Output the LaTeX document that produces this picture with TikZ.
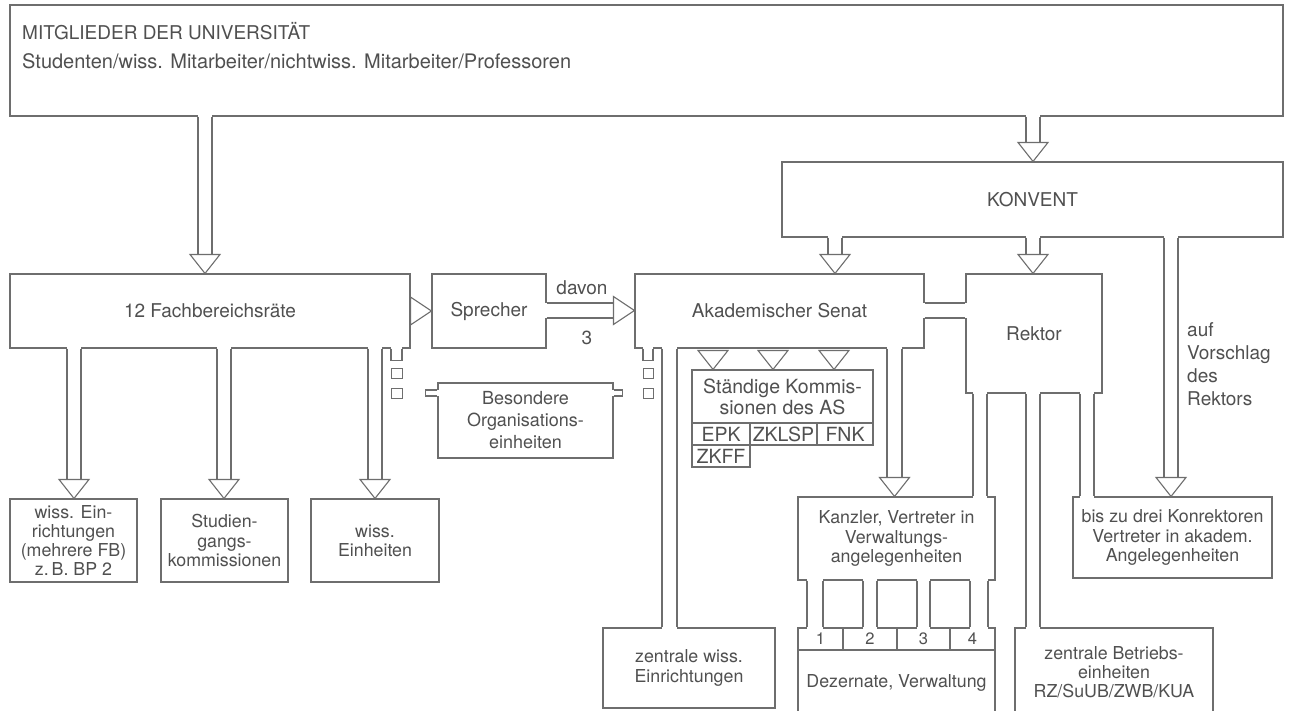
\documentclass[tikz,border=0pt]{standalone}
\usepackage{fontspec}
\setmainfont{TeX Gyre Heros}
\usetikzlibrary{calc}
\definecolor{linec}{HTML}{6E6E6E}
\definecolor{textc}{HTML}{505050}
\newcommand\bigf{\fontsize{19}{23}\selectfont}
\newcommand\stf{\fontsize{19.5}{21}\selectfont}
\newcommand\smf{\fontsize{17.8}{19.2}\selectfont}
\newcommand\besf{\fontsize{18}{22}\selectfont}
\newcommand\numf{\fontsize{16.5}{18}\selectfont}
% box by corners: [font]{name}{x1}{y1}{x2}{y2}{text}
\newcommand\mkbox[7][\smf]{\node[box,font=#1,minimum width={(#5-#3)*1pt},minimum height={(#6-#4)*1pt}] (#2) at ({(#3+#5)/2},{(#4+#6)/2}) {#7};}
\newcommand\triD[1]{\filldraw[wall,fill=white,line join=miter] ($#1+(-15,-19)$) -- ($#1+(15,-19)$) -- #1 -- cycle;}
\newcommand\triR[1]{\filldraw[wall,fill=white,line join=miter] ($#1+(-21,-14)$) -- ($#1+(-21,14)$) -- #1 -- cycle;}
% plain vertical pipe: x1 x2 from to
\newcommand\pipeV[4]{%
  \fill[white] ($(#1,0 |- #3)+(0,-1.6)$) rectangle ($(#2,0 |- #4)+(0,1.6)$);
  \draw[wall] (#1,0 |- #3) -- (#1,0 |- #4) (#2,0 |- #3) -- (#2,0 |- #4);}
% vertical pipe with arrow
\newcommand\apipeV[4]{%
  \pgfmathsetmacro\pcx{(#1+#2)/2}
  \coordinate (ptip) at (\pcx,0 |- #4);
  \coordinate (pbase) at ($(ptip)+(0,-19)$);
  \fill[white] ($(#1,0 |- #3)+(0,-1.6)$) rectangle (#2,0 |- pbase);
  \draw[wall] (#1,0 |- #3) -- (#1,0 |- pbase) (#2,0 |- #3) -- (#2,0 |- pbase);
  \triD{(ptip)}}
% plain horizontal pipe: y1 y2 from to
\newcommand\pipeH[4]{%
  \fill[white] ($(#3 |- 0,#1)+(-1.6,0)$) rectangle ($(#4 |- 0,#2)+(1.6,0)$);
  \draw[wall] (#3 |- 0,#1) -- (#4 |- 0,#1) (#3 |- 0,#2) -- (#4 |- 0,#2);}
% horizontal pipe with arrow
\newcommand\apipeH[4]{%
  \pgfmathsetmacro\pcy{(#1+#2)/2}
  \coordinate (ptip) at (#4 |- 0,\pcy);
  \coordinate (pbase) at ($(ptip)+(-21,0)$);
  \fill[white] ($(#3 |- 0,#1)+(-1.6,0)$) rectangle (pbase |- 0,#2);
  \draw[wall] (#3 |- 0,#1) -- (pbase |- 0,#1) (#3 |- 0,#2) -- (pbase |- 0,#2);
  \triR{(ptip)}}
% dotted stub: x1 x2 source
\newcommand\stub[3]{%
  \coordinate (st) at (#1,0 |- #3);
  \fill[white] ($(st)+(0,-1.6)$) rectangle ($(#2,0 |- #3)+(0,1.6)$);
  \draw[wall] (st) -- ++(0,12) -- ++({#2-#1},0) -- ++(0,-12);
  \draw[wall,line width=0.9pt] ($(st)+(0,20)$) rectangle ++({#2-#1},10);
  \draw[wall,line width=0.9pt] ($(st)+(0,40)$) rectangle ++({#2-#1},10);}
\begin{document}
\begin{tikzpicture}[x=1pt,y=-1pt,
  box/.style={draw=linec,line width=1.1pt,fill=white,inner sep=0pt,text=textc,align=center,anchor=center},
  wall/.style={draw=linec,line width=1.1pt},
  lbl/.style={text=textc,inner sep=0pt,align=left}]
\useasboundingbox (0,0) rectangle (1289,710);
% boxes
\mkbox{top}{10}{5}{1283}{116}{}
\node[lbl,font=\bigf,anchor=base west] (toptxt1) at (22,39) {MITGLIEDER DER UNIVERSITÄT};
\node[lbl,font=\fontsize{20}{23}\selectfont,anchor=base west] (toptxt2) at (22,68) {Studenten/wiss. Mitarbeiter/nichtwiss. Mitarbeiter/Professoren};
\mkbox[\bigf]{konv}{782}{162}{1283}{237}{KONVENT}
\mkbox[\bigf]{fb}{10}{274}{410}{348}{12 Fachbereichsräte}
\mkbox[\bigf]{spr}{432}{274}{546}{348}{Sprecher}
\mkbox[\bigf]{senat}{635}{274}{924}{348}{Akademischer Senat}
\mkbox[\bigf]{rektor}{966}{274}{1102}{393}{Rektor}
\mkbox[\stf]{staend}{692}{370}{873}{423}{Ständige Kommis-\\sionen des AS}
\mkbox[\stf]{epk}{692}{423}{750}{445}{EPK}
\mkbox[\stf]{zklsp}{750}{423}{817}{445}{ZKLSP}
\mkbox[\stf]{fnk}{817}{423}{873}{445}{FNK}
\mkbox[\stf]{zkff}{692}{445}{750}{467}{ZKFF}
\mkbox[\besf]{bes}{438}{383}{613}{458}{Besondere\\Organisations-\\einheiten}
\mkbox{we}{10}{499}{137}{582}{wiss. Ein-\\richtungen\\(mehrere FB)\\z.\,B. BP 2}
\mkbox{sgk}{161}{499}{288}{582}{Studien-\\gangs-\\kommissionen}
\mkbox{weh}{311}{499}{439}{582}{wiss.\\Einheiten}
\mkbox{zwe}{603}{628}{775}{708}{zentrale wiss.\\Einrichtungen}
\mkbox{kanz}{798}{497}{995}{580}{Kanzler, Vertreter in\\Verwaltungs-\\angelegenheiten}
\mkbox[\numf]{c1}{798}{628}{843}{650}{1}
\mkbox[\numf]{c2}{843}{628}{897}{650}{2}
\mkbox[\numf]{c3}{897}{628}{950}{650}{3}
\mkbox[\numf]{c4}{950}{628}{995}{650}{4}
\mkbox{dez}{798}{650}{995}{716}{Dezernate, Verwaltung}
\mkbox{kon}{1073}{497}{1272}{578}{bis zu drei Konrektoren\\Vertreter in akadem.\\Angelegenheiten}
\mkbox{betr}{1015}{628}{1213}{716}{zentrale Betriebs-\\einheiten\\RZ/SuUB/ZWB/KUA}
% labels
\node[lbl,font=\bigf,anchor=base] (davon) at (582,294) {davon};
\node[lbl,font=\bigf,anchor=base] (drei) at (587,344) {3};
\node[lbl,font=\bigf,anchor=north west] (vorschl) at (1187,322) {auf\\Vorschlag\\des\\Rektors};
% pipes
\apipeV{198}{212}{top.south}{fb.north}
\apipeV{1026}{1040}{top.south}{konv.north}
\apipeV{828}{842}{konv.south}{senat.north}
\apipeV{1026}{1040}{konv.south}{rektor.north}
\apipeV{1164}{1178}{konv.south}{kon.north}
\apipeV{67}{81}{fb.south}{we.north}
\apipeV{217}{231}{fb.south}{sgk.north}
\apipeV{368}{382}{fb.south}{weh.north}
\triR{(spr.west |- 0,311)}
\apipeH{303}{318}{spr.east}{senat.west}
\pipeH{303}{318}{senat.east}{rektor.west}
\pipeV{662}{677}{senat.south}{zwe.north}
\apipeV{887}{902}{senat.south}{kanz.north}
\triD{(713,0 |- staend.north)}
\triD{(773,0 |- staend.north)}
\triD{(834,0 |- staend.north)}
\pipeV{973}{987}{rektor.south}{kanz.north}
\pipeV{1026}{1040}{rektor.south}{betr.north}
\pipeV{1080}{1094}{rektor.south}{kon.north}
\pipeV{807}{823}{kanz.south}{c1.north}
\pipeV{863}{877}{kanz.south}{c2.north}
\pipeV{917}{930}{kanz.south}{c3.north}
\pipeV{970}{988}{kanz.south}{c4.north}
\stub{391}{402}{fb.south}
\stub{643}{653}{senat.south}
% stubs of Besondere Organisationseinheiten
\fill[white] ($(bes.west |- 0,390)+(-1.6,0)$) rectangle ($(bes.west |- 0,396)+(1.6,0)$);
\draw[wall] (bes.west |- 0,390) -- ++(-12,0) -- ++(0,6) -- ++(12,0);
\fill[white] ($(bes.east |- 0,390)+(-1.6,0)$) rectangle ($(bes.east |- 0,396)+(1.6,0)$);
\draw[wall] (bes.east |- 0,390) -- ++(9,0) -- ++(0,6) -- ++(-9,0);
\end{tikzpicture}
\end{document}
